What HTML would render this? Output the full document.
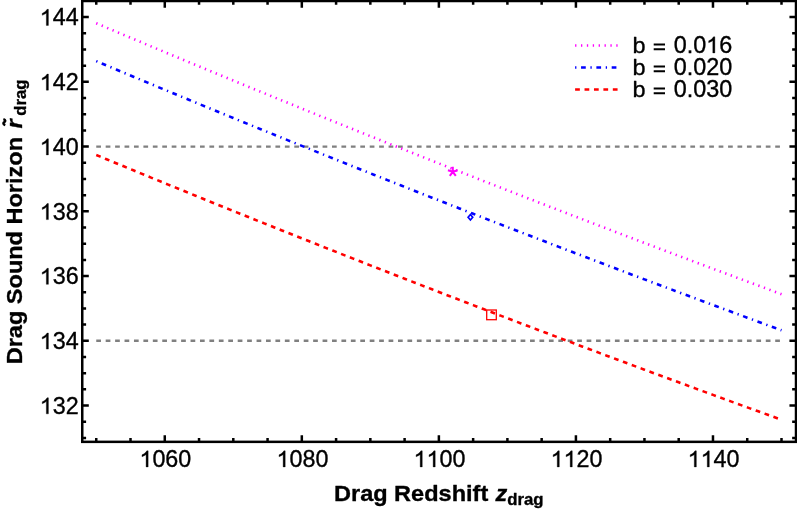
<!DOCTYPE html>
<html><head><meta charset="utf-8"><title>Drag Sound Horizon vs Drag Redshift</title>
<style>html,body{margin:0;padding:0;background:#fff;}body{width:797px;height:512px;overflow:hidden;}svg{display:block;will-change:transform;}text{font-family:"Liberation Sans",sans-serif;fill:#000;stroke:#000;stroke-width:0.35px;stroke-linejoin:round;}</style>
</head><body>
<svg width="797" height="512" viewBox="0 0 797 512">
<rect x="0" y="0" width="797" height="512" fill="#fff"/>
<line x1="96.25" y1="146.58" x2="781.50" y2="146.58" stroke="#808080" stroke-width="2.4" stroke-dasharray="4.715 4.715" fill="none"/>
<line x1="96.25" y1="340.80" x2="781.50" y2="340.80" stroke="#808080" stroke-width="2.4" stroke-dasharray="4.715 4.715" fill="none"/>
<path d="M96.25,23.25 L99.68,24.70 L103.10,26.15 L106.53,27.60 L109.95,29.05 L113.38,30.50 L116.81,31.95 L120.23,33.39 L123.66,34.84 L127.09,36.28 L130.51,37.73 L133.94,39.17 L137.37,40.61 L140.79,42.05 L144.22,43.49 L147.64,44.92 L151.07,46.36 L154.50,47.80 L157.92,49.23 L161.35,50.66 L164.78,52.10 L168.20,53.53 L171.63,54.96 L175.05,56.39 L178.48,57.82 L181.91,59.24 L185.33,60.67 L188.76,62.09 L192.19,63.52 L195.61,64.94 L199.04,66.36 L202.46,67.78 L205.89,69.20 L209.32,70.62 L212.74,72.04 L216.17,73.46 L219.59,74.87 L223.02,76.29 L226.45,77.70 L229.87,79.11 L233.30,80.53 L236.73,81.94 L240.15,83.35 L243.58,84.75 L247.00,86.16 L250.43,87.57 L253.86,88.97 L257.28,90.38 L260.71,91.78 L264.14,93.18 L267.56,94.59 L270.99,95.99 L274.41,97.39 L277.84,98.78 L281.27,100.18 L284.69,101.58 L288.12,102.97 L291.55,104.37 L294.97,105.76 L298.40,107.16 L301.82,108.55 L305.25,109.94 L308.68,111.33 L312.10,112.72 L315.53,114.10 L318.96,115.49 L322.38,116.88 L325.81,118.26 L329.24,119.64 L332.66,121.03 L336.09,122.41 L339.51,123.79 L342.94,125.17 L346.37,126.55 L349.79,127.93 L353.22,129.30 L356.64,130.68 L360.07,132.05 L363.50,133.43 L366.92,134.80 L370.35,136.17 L373.78,137.54 L377.20,138.91 L380.63,140.28 L384.06,141.65 L387.48,143.02 L390.91,144.38 L394.33,145.75 L397.76,147.11 L401.19,148.48 L404.61,149.84 L408.04,151.20 L411.46,152.56 L414.89,153.92 L418.32,155.28 L421.74,156.64 L425.17,157.99 L428.60,159.35 L432.02,160.71 L435.45,162.06 L438.88,163.41 L442.30,164.76 L445.73,166.12 L449.15,167.47 L452.58,168.81 L456.01,170.16 L459.43,171.51 L462.86,172.86 L466.29,174.20 L469.71,175.55 L473.14,176.89 L476.56,178.23 L479.99,179.58 L483.42,180.92 L486.84,182.26 L490.27,183.60 L493.69,184.93 L497.12,186.27 L500.55,187.61 L503.97,188.94 L507.40,190.28 L510.83,191.61 L514.25,192.94 L517.68,194.27 L521.11,195.61 L524.53,196.93 L527.96,198.26 L531.38,199.59 L534.81,200.92 L538.24,202.25 L541.66,203.57 L545.09,204.90 L548.51,206.22 L551.94,207.54 L555.37,208.86 L558.79,210.18 L562.22,211.50 L565.65,212.82 L569.07,214.14 L572.50,215.46 L575.92,216.77 L579.35,218.09 L582.78,219.40 L586.20,220.72 L589.63,222.03 L593.06,223.34 L596.48,224.65 L599.91,225.96 L603.34,227.27 L606.76,228.58 L610.19,229.89 L613.61,231.20 L617.04,232.50 L620.47,233.81 L623.89,235.11 L627.32,236.41 L630.75,237.72 L634.17,239.02 L637.60,240.32 L641.02,241.62 L644.45,242.92 L647.88,244.21 L651.30,245.51 L654.73,246.81 L658.15,248.10 L661.58,249.40 L665.01,250.69 L668.43,251.98 L671.86,253.28 L675.29,254.57 L678.71,255.86 L682.14,257.15 L685.57,258.43 L688.99,259.72 L692.42,261.01 L695.84,262.29 L699.27,263.58 L702.70,264.86 L706.12,266.15 L709.55,267.43 L712.98,268.71 L716.40,269.99 L719.83,271.27 L723.25,272.55 L726.68,273.83 L730.11,275.11 L733.53,276.38 L736.96,277.66 L740.38,278.93 L743.81,280.21 L747.24,281.48 L750.66,282.75 L754.09,284.02 L757.52,285.29 L760.94,286.56 L764.37,287.83 L767.79,289.10 L771.22,290.37 L774.65,291.64 L778.07,292.90 L781.50,294.17" stroke="#ff00ff" stroke-width="2.6" stroke-dasharray="1.3 4.586" fill="none"/>
<path d="M96.25,61.12 L99.68,62.57 L103.10,64.01 L106.53,65.45 L109.95,66.89 L113.38,68.33 L116.81,69.76 L120.23,71.20 L123.66,72.64 L127.09,74.07 L130.51,75.50 L133.94,76.94 L137.37,78.37 L140.79,79.80 L144.22,81.23 L147.64,82.66 L151.07,84.08 L154.50,85.51 L157.92,86.93 L161.35,88.36 L164.78,89.78 L168.20,91.20 L171.63,92.62 L175.05,94.04 L178.48,95.46 L181.91,96.88 L185.33,98.30 L188.76,99.71 L192.19,101.13 L195.61,102.54 L199.04,103.95 L202.46,105.37 L205.89,106.78 L209.32,108.19 L212.74,109.59 L216.17,111.00 L219.59,112.41 L223.02,113.81 L226.45,115.22 L229.87,116.62 L233.30,118.02 L236.73,119.43 L240.15,120.83 L243.58,122.23 L247.00,123.62 L250.43,125.02 L253.86,126.42 L257.28,127.81 L260.71,129.21 L264.14,130.60 L267.56,131.99 L270.99,133.39 L274.41,134.78 L277.84,136.17 L281.27,137.55 L284.69,138.94 L288.12,140.33 L291.55,141.71 L294.97,143.10 L298.40,144.48 L301.82,145.86 L305.25,147.24 L308.68,148.63 L312.10,150.00 L315.53,151.38 L318.96,152.76 L322.38,154.14 L325.81,155.51 L329.24,156.89 L332.66,158.26 L336.09,159.63 L339.51,161.01 L342.94,162.38 L346.37,163.75 L349.79,165.12 L353.22,166.48 L356.64,167.85 L360.07,169.22 L363.50,170.58 L366.92,171.95 L370.35,173.31 L373.78,174.67 L377.20,176.03 L380.63,177.39 L384.06,178.75 L387.48,180.11 L390.91,181.47 L394.33,182.82 L397.76,184.18 L401.19,185.53 L404.61,186.89 L408.04,188.24 L411.46,189.59 L414.89,190.94 L418.32,192.29 L421.74,193.64 L425.17,194.99 L428.60,196.34 L432.02,197.68 L435.45,199.03 L438.88,200.37 L442.30,201.71 L445.73,203.06 L449.15,204.40 L452.58,205.74 L456.01,207.08 L459.43,208.42 L462.86,209.75 L466.29,211.09 L469.71,212.43 L473.14,213.76 L476.56,215.10 L479.99,216.43 L483.42,217.76 L486.84,219.09 L490.27,220.42 L493.69,221.75 L497.12,223.08 L500.55,224.41 L503.97,225.73 L507.40,227.06 L510.83,228.38 L514.25,229.71 L517.68,231.03 L521.11,232.35 L524.53,233.67 L527.96,234.99 L531.38,236.31 L534.81,237.63 L538.24,238.95 L541.66,240.27 L545.09,241.58 L548.51,242.90 L551.94,244.21 L555.37,245.52 L558.79,246.84 L562.22,248.15 L565.65,249.46 L569.07,250.77 L572.50,252.08 L575.92,253.38 L579.35,254.69 L582.78,256.00 L586.20,257.30 L589.63,258.61 L593.06,259.91 L596.48,261.21 L599.91,262.51 L603.34,263.81 L606.76,265.11 L610.19,266.41 L613.61,267.71 L617.04,269.01 L620.47,270.31 L623.89,271.60 L627.32,272.90 L630.75,274.19 L634.17,275.48 L637.60,276.77 L641.02,278.07 L644.45,279.36 L647.88,280.64 L651.30,281.93 L654.73,283.22 L658.15,284.51 L661.58,285.79 L665.01,287.08 L668.43,288.36 L671.86,289.65 L675.29,290.93 L678.71,292.21 L682.14,293.49 L685.57,294.77 L688.99,296.05 L692.42,297.33 L695.84,298.61 L699.27,299.88 L702.70,301.16 L706.12,302.43 L709.55,303.71 L712.98,304.98 L716.40,306.25 L719.83,307.53 L723.25,308.80 L726.68,310.07 L730.11,311.33 L733.53,312.60 L736.96,313.87 L740.38,315.14 L743.81,316.40 L747.24,317.67 L750.66,318.93 L754.09,320.19 L757.52,321.46 L760.94,322.72 L764.37,323.98 L767.79,325.24 L771.22,326.50 L774.65,327.76 L778.07,329.01 L781.50,330.27" stroke="#0000ff" stroke-width="2.6" stroke-dasharray="1.3 4.65 4.72 4.65" fill="none"/>
<path d="M96.25,155.00 L99.68,156.42 L103.10,157.83 L106.53,159.25 L109.95,160.67 L113.38,162.08 L116.81,163.50 L120.23,164.91 L123.66,166.32 L127.09,167.73 L130.51,169.14 L133.94,170.55 L137.37,171.96 L140.79,173.37 L144.22,174.77 L147.64,176.18 L151.07,177.58 L154.50,178.99 L157.92,180.39 L161.35,181.79 L164.78,183.19 L168.20,184.59 L171.63,185.98 L175.05,187.38 L178.48,188.78 L181.91,190.17 L185.33,191.57 L188.76,192.96 L192.19,194.35 L195.61,195.74 L199.04,197.13 L202.46,198.52 L205.89,199.91 L209.32,201.29 L212.74,202.68 L216.17,204.06 L219.59,205.45 L223.02,206.83 L226.45,208.21 L229.87,209.59 L233.30,210.97 L236.73,212.35 L240.15,213.73 L243.58,215.10 L247.00,216.48 L250.43,217.85 L253.86,219.23 L257.28,220.60 L260.71,221.97 L264.14,223.34 L267.56,224.71 L270.99,226.08 L274.41,227.45 L277.84,228.82 L281.27,230.18 L284.69,231.55 L288.12,232.91 L291.55,234.27 L294.97,235.64 L298.40,237.00 L301.82,238.36 L305.25,239.72 L308.68,241.07 L312.10,242.43 L315.53,243.79 L318.96,245.14 L322.38,246.50 L325.81,247.85 L329.24,249.20 L332.66,250.55 L336.09,251.90 L339.51,253.25 L342.94,254.60 L346.37,255.95 L349.79,257.30 L353.22,258.64 L356.64,259.99 L360.07,261.33 L363.50,262.67 L366.92,264.01 L370.35,265.35 L373.78,266.69 L377.20,268.03 L380.63,269.37 L384.06,270.71 L387.48,272.05 L390.91,273.38 L394.33,274.71 L397.76,276.05 L401.19,277.38 L404.61,278.71 L408.04,280.04 L411.46,281.37 L414.89,282.70 L418.32,284.03 L421.74,285.36 L425.17,286.68 L428.60,288.01 L432.02,289.33 L435.45,290.65 L438.88,291.98 L442.30,293.30 L445.73,294.62 L449.15,295.94 L452.58,297.26 L456.01,298.57 L459.43,299.89 L462.86,301.21 L466.29,302.52 L469.71,303.83 L473.14,305.15 L476.56,306.46 L479.99,307.77 L483.42,309.08 L486.84,310.39 L490.27,311.70 L493.69,313.01 L497.12,314.31 L500.55,315.62 L503.97,316.93 L507.40,318.23 L510.83,319.53 L514.25,320.83 L517.68,322.14 L521.11,323.44 L524.53,324.74 L527.96,326.04 L531.38,327.33 L534.81,328.63 L538.24,329.93 L541.66,331.22 L545.09,332.52 L548.51,333.81 L551.94,335.10 L555.37,336.39 L558.79,337.68 L562.22,338.97 L565.65,340.26 L569.07,341.55 L572.50,342.84 L575.92,344.13 L579.35,345.41 L582.78,346.70 L586.20,347.98 L589.63,349.26 L593.06,350.54 L596.48,351.83 L599.91,353.11 L603.34,354.39 L606.76,355.66 L610.19,356.94 L613.61,358.22 L617.04,359.49 L620.47,360.77 L623.89,362.04 L627.32,363.32 L630.75,364.59 L634.17,365.86 L637.60,367.13 L641.02,368.40 L644.45,369.67 L647.88,370.94 L651.30,372.21 L654.73,373.47 L658.15,374.74 L661.58,376.01 L665.01,377.27 L668.43,378.53 L671.86,379.80 L675.29,381.06 L678.71,382.32 L682.14,383.58 L685.57,384.84 L688.99,386.10 L692.42,387.35 L695.84,388.61 L699.27,389.87 L702.70,391.12 L706.12,392.37 L709.55,393.63 L712.98,394.88 L716.40,396.13 L719.83,397.38 L723.25,398.63 L726.68,399.88 L730.11,401.13 L733.53,402.38 L736.96,403.62 L740.38,404.87 L743.81,406.11 L747.24,407.36 L750.66,408.60 L754.09,409.84 L757.52,411.09 L760.94,412.33 L764.37,413.57 L767.79,414.81 L771.22,416.05 L774.65,417.28 L778.07,418.52 L781.50,419.76" stroke="#ff0000" stroke-width="2.6" stroke-dasharray="4.75 4.68" fill="none"/>
<path d="M452.80,171.80 L452.80,166.70 M452.80,171.80 L457.65,170.22 M452.80,171.80 L447.95,170.22 M452.80,171.80 L455.80,175.93 M452.80,171.80 L449.80,175.93" stroke="#ff00ff" stroke-width="2.0" fill="none"/>
<path d="M468.10,217.30 L470.40,214.55 L472.70,217.30 L470.40,220.05 Z" stroke="#0000ff" stroke-width="1.7" stroke-linejoin="miter" fill="none"/>
<rect x="486.7" y="310.0" width="9.6" height="9.7" stroke="#ff0000" stroke-width="1.3" fill="none"/>
<path d="M96.25,441.85 V438.00 M96.25,1.00 V4.85 M130.51,441.85 V438.00 M130.51,1.00 V4.85 M164.78,441.85 V435.20 M164.78,1.00 V7.65 M199.04,441.85 V438.00 M199.04,1.00 V4.85 M233.30,441.85 V438.00 M233.30,1.00 V4.85 M267.56,441.85 V438.00 M267.56,1.00 V4.85 M301.82,441.85 V435.20 M301.82,1.00 V7.65 M336.09,441.85 V438.00 M336.09,1.00 V4.85 M370.35,441.85 V438.00 M370.35,1.00 V4.85 M404.61,441.85 V438.00 M404.61,1.00 V4.85 M438.88,441.85 V435.20 M438.88,1.00 V7.65 M473.14,441.85 V438.00 M473.14,1.00 V4.85 M507.40,441.85 V438.00 M507.40,1.00 V4.85 M541.66,441.85 V438.00 M541.66,1.00 V4.85 M575.92,441.85 V435.20 M575.92,1.00 V7.65 M610.19,441.85 V438.00 M610.19,1.00 V4.85 M644.45,441.85 V438.00 M644.45,1.00 V4.85 M678.71,441.85 V438.00 M678.71,1.00 V4.85 M712.98,441.85 V435.20 M712.98,1.00 V7.65 M747.24,441.85 V438.00 M747.24,1.00 V4.85 M781.50,441.85 V438.00 M781.50,1.00 V4.85 M82.25,437.91 H86.10 M796.00,437.91 H792.15 M82.25,421.72 H86.10 M796.00,421.72 H792.15 M82.25,405.54 H88.80 M796.00,405.54 H789.45 M82.25,389.36 H86.10 M796.00,389.36 H792.15 M82.25,373.17 H86.10 M796.00,373.17 H792.15 M82.25,356.99 H86.10 M796.00,356.99 H792.15 M82.25,340.80 H88.80 M796.00,340.80 H789.45 M82.25,324.62 H86.10 M796.00,324.62 H792.15 M82.25,308.43 H86.10 M796.00,308.43 H792.15 M82.25,292.25 H86.10 M796.00,292.25 H792.15 M82.25,276.06 H88.80 M796.00,276.06 H789.45 M82.25,259.88 H86.10 M796.00,259.88 H792.15 M82.25,243.69 H86.10 M796.00,243.69 H792.15 M82.25,227.50 H86.10 M796.00,227.50 H792.15 M82.25,211.32 H88.80 M796.00,211.32 H789.45 M82.25,195.13 H86.10 M796.00,195.13 H792.15 M82.25,178.95 H86.10 M796.00,178.95 H792.15 M82.25,162.76 H86.10 M796.00,162.76 H792.15 M82.25,146.58 H88.80 M796.00,146.58 H789.45 M82.25,130.39 H86.10 M796.00,130.39 H792.15 M82.25,114.21 H86.10 M796.00,114.21 H792.15 M82.25,98.03 H86.10 M796.00,98.03 H792.15 M82.25,81.84 H88.80 M796.00,81.84 H789.45 M82.25,65.66 H86.10 M796.00,65.66 H792.15 M82.25,49.47 H86.10 M796.00,49.47 H792.15 M82.25,33.28 H86.10 M796.00,33.28 H792.15 M82.25,17.10 H88.80 M796.00,17.10 H789.45" stroke="#000" stroke-width="2.50" fill="none"/>
<rect x="82.25" y="1.00" width="713.75" height="440.85" stroke="#000" stroke-width="2.50" fill="none"/>
<path transform="translate(39.72,25.40) scale(0.01138,-0.01138)" d="M763 0H583V1098Q518 1038 412.5 979Q307 920 223 890V1057Q374 1125 487 1221Q600 1318 647 1409H763Z" fill="#000" stroke="#000" stroke-width="30.8" stroke-linejoin="round"/><text x="52.68" y="25.40" font-size="23.3">44</text>
<path transform="translate(39.72,90.14) scale(0.01138,-0.01138)" d="M763 0H583V1098Q518 1038 412.5 979Q307 920 223 890V1057Q374 1125 487 1221Q600 1318 647 1409H763Z" fill="#000" stroke="#000" stroke-width="30.8" stroke-linejoin="round"/><text x="52.68" y="90.14" font-size="23.3">42</text>
<path transform="translate(39.72,154.88) scale(0.01138,-0.01138)" d="M763 0H583V1098Q518 1038 412.5 979Q307 920 223 890V1057Q374 1125 487 1221Q600 1318 647 1409H763Z" fill="#000" stroke="#000" stroke-width="30.8" stroke-linejoin="round"/><text x="52.68" y="154.88" font-size="23.3">40</text>
<path transform="translate(39.72,219.62) scale(0.01138,-0.01138)" d="M763 0H583V1098Q518 1038 412.5 979Q307 920 223 890V1057Q374 1125 487 1221Q600 1318 647 1409H763Z" fill="#000" stroke="#000" stroke-width="30.8" stroke-linejoin="round"/><text x="52.68" y="219.62" font-size="23.3">38</text>
<path transform="translate(39.72,284.36) scale(0.01138,-0.01138)" d="M763 0H583V1098Q518 1038 412.5 979Q307 920 223 890V1057Q374 1125 487 1221Q600 1318 647 1409H763Z" fill="#000" stroke="#000" stroke-width="30.8" stroke-linejoin="round"/><text x="52.68" y="284.36" font-size="23.3">36</text>
<path transform="translate(39.72,349.10) scale(0.01138,-0.01138)" d="M763 0H583V1098Q518 1038 412.5 979Q307 920 223 890V1057Q374 1125 487 1221Q600 1318 647 1409H763Z" fill="#000" stroke="#000" stroke-width="30.8" stroke-linejoin="round"/><text x="52.68" y="349.10" font-size="23.3">34</text>
<path transform="translate(39.72,413.84) scale(0.01138,-0.01138)" d="M763 0H583V1098Q518 1038 412.5 979Q307 920 223 890V1057Q374 1125 487 1221Q600 1318 647 1409H763Z" fill="#000" stroke="#000" stroke-width="30.8" stroke-linejoin="round"/><text x="52.68" y="413.84" font-size="23.3">32</text>
<path transform="translate(139.46,466.90) scale(0.01138,-0.01138)" d="M763 0H583V1098Q518 1038 412.5 979Q307 920 223 890V1057Q374 1125 487 1221Q600 1318 647 1409H763Z" fill="#000" stroke="#000" stroke-width="30.8" stroke-linejoin="round"/><text x="152.42" y="466.90" font-size="23.3">060</text>
<path transform="translate(276.51,466.90) scale(0.01138,-0.01138)" d="M763 0H583V1098Q518 1038 412.5 979Q307 920 223 890V1057Q374 1125 487 1221Q600 1318 647 1409H763Z" fill="#000" stroke="#000" stroke-width="30.8" stroke-linejoin="round"/><text x="289.47" y="466.90" font-size="23.3">080</text>
<path transform="translate(413.56,466.90) scale(0.01138,-0.01138)" d="M763 0H583V1098Q518 1038 412.5 979Q307 920 223 890V1057Q374 1125 487 1221Q600 1318 647 1409H763Z" fill="#000" stroke="#000" stroke-width="30.8" stroke-linejoin="round"/><path transform="translate(426.52,466.90) scale(0.01138,-0.01138)" d="M763 0H583V1098Q518 1038 412.5 979Q307 920 223 890V1057Q374 1125 487 1221Q600 1318 647 1409H763Z" fill="#000" stroke="#000" stroke-width="30.8" stroke-linejoin="round"/><text x="439.47" y="466.90" font-size="23.3">00</text>
<path transform="translate(550.61,466.90) scale(0.01138,-0.01138)" d="M763 0H583V1098Q518 1038 412.5 979Q307 920 223 890V1057Q374 1125 487 1221Q600 1318 647 1409H763Z" fill="#000" stroke="#000" stroke-width="30.8" stroke-linejoin="round"/><path transform="translate(563.57,466.90) scale(0.01138,-0.01138)" d="M763 0H583V1098Q518 1038 412.5 979Q307 920 223 890V1057Q374 1125 487 1221Q600 1318 647 1409H763Z" fill="#000" stroke="#000" stroke-width="30.8" stroke-linejoin="round"/><text x="576.52" y="466.90" font-size="23.3">20</text>
<path transform="translate(687.66,466.90) scale(0.01138,-0.01138)" d="M763 0H583V1098Q518 1038 412.5 979Q307 920 223 890V1057Q374 1125 487 1221Q600 1318 647 1409H763Z" fill="#000" stroke="#000" stroke-width="30.8" stroke-linejoin="round"/><path transform="translate(700.62,466.90) scale(0.01138,-0.01138)" d="M763 0H583V1098Q518 1038 412.5 979Q307 920 223 890V1057Q374 1125 487 1221Q600 1318 647 1409H763Z" fill="#000" stroke="#000" stroke-width="30.8" stroke-linejoin="round"/><text x="713.58" y="466.90" font-size="23.3">40</text>
<line x1="575.1" y1="45.45" x2="618.4" y2="45.45" stroke="#ff00ff" stroke-width="2.6" stroke-dasharray="1.3 4.586"/>
<text transform="translate(632.6,52.90) scale(1,0.965)" x="0" y="0" font-size="23.5">b</text>
<path d="M653.7,44.45 H665.0 M653.7,49.15 H665.0" stroke="#000" stroke-width="1.95" fill="none"/>
<text x="673.70" y="52.90" font-size="23.4">0.0</text><path transform="translate(706.16,52.90) scale(0.01140,-0.01140)" d="M763 0H583V1098Q518 1038 412.5 979Q307 920 223 890V1057Q374 1125 487 1221Q600 1318 647 1409H763Z" fill="#000" stroke="#000" stroke-width="30.7" stroke-linejoin="round"/><text x="719.15" y="52.90" font-size="23.4">6</text>
<line x1="575.1" y1="67.50" x2="618.4" y2="67.50" stroke="#0000ff" stroke-width="2.6" stroke-dasharray="1.3 4.65 4.72 4.65"/>
<text transform="translate(632.6,74.90) scale(1,0.965)" x="0" y="0" font-size="23.5">b</text>
<path d="M653.7,66.45 H665.0 M653.7,71.15 H665.0" stroke="#000" stroke-width="1.95" fill="none"/>
<text x="673.70" y="74.90" font-size="23.4">0.020</text>
<line x1="575.1" y1="89.55" x2="618.4" y2="89.55" stroke="#ff0000" stroke-width="2.6" stroke-dasharray="4.75 4.68"/>
<text transform="translate(632.6,96.90) scale(1,0.965)" x="0" y="0" font-size="23.5">b</text>
<path d="M653.7,88.45 H665.0 M653.7,93.15 H665.0" stroke="#000" stroke-width="1.95" fill="none"/>
<text x="673.70" y="96.90" font-size="23.4">0.030</text>
<g transform="translate(334.0,500.9) scale(1.0060,0.9650)" font-weight="bold"><text x="0" y="0" font-size="23.4">Drag Redshift</text><text x="160.60" y="0" font-size="23.4" font-style="italic">z</text><text x="172.20" y="4.4" font-size="16.7">drag</text></g>
<g transform="translate(21.8,364.3) rotate(-90) scale(1.0060,0.9650)" font-weight="bold"><text x="0" y="0" font-size="23.4">Drag Sound Horizon</text><text x="234.50" y="0" font-size="23.4" font-style="italic">r</text><text x="247.00" y="4.4" font-size="16.7">drag</text><path d="M237.7,-17.1 C238.7,-19.9 240.1,-19.5 240.75,-18.1 C241.4,-16.7 242.8,-16.3 243.8,-19.1" stroke="#000" stroke-width="2.3" fill="none"/></g>
</svg></body></html>
